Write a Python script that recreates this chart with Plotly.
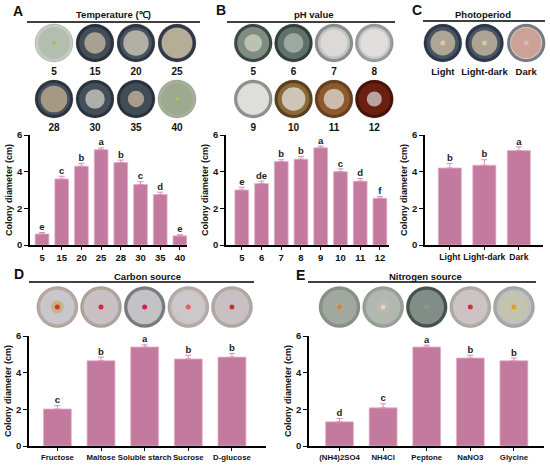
import plotly.graph_objects as go

W, H = 550, 468
# offset of the plot inside the page (body margin is removed below)
OX, OY = 0, 0

# -----------------------------
# Data
# -----------------------------
temp_labels = ["5", "15", "20", "25", "28", "30", "35", "40"]
temp_mean = [0.6, 3.6, 4.3, 5.2, 4.5, 3.3, 2.75, 0.5]
temp_err = [0.08, 0.15, 0.15, 0.1, 0.13, 0.15, 0.13, 0.06]
temp_sig = ["e", "c", "b", "a", "b", "c", "d", "e"]

ph_labels = ["5", "6", "7", "8", "9", "10", "11", "12"]
ph_mean = [3.0, 3.35, 4.55, 4.68, 5.3, 4.0, 3.48, 2.55]
ph_err = [0.15, 0.13, 0.1, 0.15, 0.1, 0.15, 0.15, 0.1]
ph_sig = ["e", "de", "b", "b", "a", "c", "d", "f"]

light_labels = ["Light", "Light-dark", "Dark"]
light_mean = [4.2, 4.35, 5.15]
light_err = [0.25, 0.3, 0.2]
light_sig = ["b", "b", "a"]

carbon_labels = ["Fructose", "Maltose", "Soluble starch", "Sucrose", "D-glucose"]
carbon_mean = [2.02, 4.65, 5.4, 4.75, 4.85]
carbon_err = [0.18, 0.2, 0.12, 0.2, 0.2]
carbon_sig = ["c", "b", "a", "b", "b"]

nitrogen_labels = ["(NH4)2SO4", "NH4Cl", "Peptone", "NaNO3", "Glycine"]
nitrogen_mean = [1.32, 2.08, 5.4, 4.8, 4.65]
nitrogen_err = [0.18, 0.22, 0.1, 0.15, 0.15]
nitrogen_sig = ["d", "c", "a", "b", "b"]

# -----------------------------
# Plate colours (rim, agar, colony, centre spot)
# -----------------------------
temp_rim = ["#c6cbc1", "#29313d", "#2d3643", "#303846", "#2c3440", "#2b333f", "#29313d", "#a6b09b"]
temp_agar = ["#b3beaf", "#434d58", "#48535e", "#4a5460", "#46505c", "#454f5a", "#424c56", "#9daa8f"]
temp_colony = ["#e09a3a", "#d6c2ad", "#e0d8c4", "#e3d3ae", "#cdb894", "#dcd7cc", "#d2c2a2", "#e6c02a"]

ph_rim = ["#3b4741", "#323e3a", "#8a8e8e", "#989c9c", "#8c928e", "#58401e", "#683f1e", "#481307"]
ph_agar = ["#7f8c82", "#60706a", "#c2c4c2", "#c9cbcb", "#bfc3bb", "#8a6a38", "#8c5a2c", "#6a2010"]
ph_colony = ["#d6d8c4", "#b8c0bc", "#e8e2e0", "#ece6e6", "#ebebe6", "#ececec", "#e6e6e6", "#dcdcdc"]

light_rim = ["#2c384a", "#2c384a", "#787d82"]
light_agar = ["#485464", "#485464", "#dcdcdc"]
light_colony = ["#d9c9a8", "#d5c6a6", "#c48878"]
light_centre = ["#d9c9a8", "#d5c6a6", "#dcbcae"]

carbon_rim = ["#b8a8a0", "#b0a49c", "#7a7c80", "#b8aaa4", "#b4a8a2"]
carbon_agar = ["#c8c8cc", "#c4c4c8", "#9a9ca0", "#c6c6ca", "#c4c4c8"]
carbon_colony = ["#c9a85c", "#cdbfc0", "#d4d4d6", "#cfc7c8", "#cbbfc0"]
carbon_centre = ["#d03040", "#e02040", "#d02050", "#e06070", "#c83040"]

nitrogen_rim = ["#889088", "#98a098", "#48524e", "#b4aaa4", "#a8a8ac"]
nitrogen_agar = ["#a0a8a0", "#b0b8b0", "#6c7872", "#c8c6c8", "#bcc0c4"]
nitrogen_colony = ["#a8aea4", "#b8beb6", "#8a968e", "#cec2c2", "#c8c4a4"]
nitrogen_centre = ["#e08030", "#f0d0b0", "#8a968e", "#d03040", "#e0a020"]

BAR = "#c27a9f"
BAR_EDGE = "#e8b2cd"
ERR = "#d98fb3"
FONT = "Arial, Liberation Sans, sans-serif"


def px(x):
    return (x - OX) / W


def py(y):
    return 1 - (y - OY) / H


fig = go.Figure()


# -----------------------------
# Bar panels
# -----------------------------
def add_bars(labels, mean, err, sig, n, bw):
    xa, ya = "x%d" % n, "y%d" % n
    fig.add_trace(go.Bar(
        x=labels, y=mean, xaxis=xa, yaxis=ya, width=bw,
        marker=dict(color=BAR, line=dict(color=BAR_EDGE, width=0.8)),
        error_y=dict(type="data", array=err, arrayminus=[0] * len(err),
                     symmetric=False, color=ERR, thickness=1, width=3),
        hoverinfo="x+y",
    ))
    fig.add_trace(go.Scatter(
        x=labels, y=[m + e for m, e in zip(mean, err)], xaxis=xa, yaxis=ya,
        mode="text", text=sig, textposition="top center", cliponaxis=False,
        textfont=dict(family=FONT, size=9.5, color="#222", weight="bold"),
        hoverinfo="skip",
    ))


add_bars(temp_labels, temp_mean, temp_err, temp_sig, 1, 0.7)
add_bars(ph_labels, ph_mean, ph_err, ph_sig, 2, 0.7)
add_bars(light_labels, light_mean, light_err, light_sig, 3, 0.67)
add_bars(carbon_labels, carbon_mean, carbon_err, carbon_sig, 4, 0.64)
add_bars(nitrogen_labels, nitrogen_mean, nitrogen_err, nitrogen_sig, 5, 0.64)


# -----------------------------
# Petri dishes
# -----------------------------
def add_dishes(xs, ys, values, rim, agar, colony, centre, xa, ya, size, labels=None, lsize=10):
    inner = size * 0.84
    fig.add_trace(go.Scatter(
        x=xs, y=ys, xaxis=xa, yaxis=ya,
        mode="markers+text" if labels else "markers",
        marker=dict(size=size, color=rim, line=dict(color="rgba(0,0,0,0.25)", width=0.6)),
        text=labels, textposition="bottom center", cliponaxis=False,
        textfont=dict(family=FONT, size=lsize, color="#111", weight="bold"),
        hoverinfo="skip",
    ))
    fig.add_trace(go.Scatter(
        x=xs, y=ys, xaxis=xa, yaxis=ya, mode="markers",
        marker=dict(size=inner, color=agar, line=dict(width=0)), hoverinfo="skip",
    ))
    fig.add_trace(go.Scatter(
        x=xs, y=ys, xaxis=xa, yaxis=ya, mode="markers",
        marker=dict(size=[min(inner, inner * v / 5.4) for v in values], color=colony,
                    line=dict(width=0)),
        hoverinfo="skip",
    ))
    if centre:
        fig.add_trace(go.Scatter(
            x=xs, y=ys, xaxis=xa, yaxis=ya, mode="markers",
            marker=dict(size=5, color=centre, line=dict(width=0)), hoverinfo="skip",
        ))


add_dishes([i % 4 for i in range(8)], [i // 4 for i in range(8)], temp_mean,
           temp_rim, temp_agar, temp_colony, None, "x6", "y6", 38, temp_labels)
add_dishes([i % 4 for i in range(8)], [i // 4 for i in range(8)], ph_mean,
           ph_rim, ph_agar, ph_colony, None, "x7", "y7", 38, ph_labels)
add_dishes(list(range(3)), [0] * 3, light_mean,
           light_rim, light_agar, light_colony, light_centre, "x8", "y8", 38, light_labels, 9.5)
add_dishes(carbon_labels, [0] * 5, carbon_mean,
           carbon_rim, carbon_agar, carbon_colony, carbon_centre, "x4", "y9", 41)
add_dishes(nitrogen_labels, [0] * 5, nitrogen_mean,
           nitrogen_rim, nitrogen_agar, nitrogen_colony, nitrogen_centre, "x5", "y10", 41)


# -----------------------------
# Axes
# -----------------------------
def xaxis(dom, rng, anchor, size):
    return dict(domain=[px(dom[0]), px(dom[1])], range=rng, anchor=anchor,
                type="category", showline=True, linecolor="black", linewidth=1.5,
                ticks="outside", ticklen=3, tickcolor="black", tickwidth=1,
                tickangle=0, automargin=False,
                tickfont=dict(family=FONT, size=size, color="#111", weight="bold"),
                showgrid=False, zeroline=False, fixedrange=True)


def yaxis(dom, anchor):
    return dict(domain=[py(dom[0]), py(dom[1])], range=[0, 6], anchor=anchor,
                tickvals=[0, 2, 4, 6], showline=True, linecolor="black", linewidth=1.5,
                ticks="outside", ticklen=4, tickcolor="black", tickwidth=1.2,
                automargin=False,
                tickfont=dict(family=FONT, size=9.5, color="#111", weight="bold"),
                title=dict(text="Colony diameter (cm)", standoff=3,
                           font=dict(family=FONT, size=9, color="#111", weight="bold")),
                showgrid=False, zeroline=False, fixedrange=True)


def hidden(dom, rng, anchor, is_x):
    d = [px(dom[0]), px(dom[1])] if is_x else [py(dom[0]), py(dom[1])]
    return dict(domain=d, range=rng, anchor=anchor, visible=False, automargin=False,
                showgrid=False, zeroline=False, fixedrange=True)


layout = dict(
    width=W, height=H, margin=dict(l=0, r=0, t=0, b=0, autoexpand=False),
    paper_bgcolor="white", plot_bgcolor="rgba(0,0,0,0)",
    showlegend=False, bargap=0.3,
    xaxis=xaxis((30, 187), [-0.61, 7.36], "y", 9.5),
    yaxis=yaxis((245, 135), "x"),
    xaxis2=xaxis((226, 389), [-0.8, 7.46], "y2", 9.5),
    yaxis2=yaxis((245, 135), "x2"),
    xaxis3=xaxis((425, 543), [-0.72, 2.7], "y3", 8.6),
    yaxis3=yaxis((245, 135), "x3"),
    xaxis4=xaxis((29, 266), [-0.65, 4.78], "y4", 7.8),
    yaxis4=yaxis((446, 336), "x4"),
    xaxis5=xaxis((309, 544), [-0.7, 4.69], "y5", 7.8),
    yaxis5=yaxis((446, 336), "x5"),
    xaxis6=hidden((33.5, 197.5), [-0.5, 3.5], "y6", True),
    yaxis6=hidden((127, 15), [1.5, -0.5], "x6", False),
    xaxis7=hidden((233, 394.5), [-0.5, 3.5], "y7", True),
    yaxis7=hidden((127, 15), [1.5, -0.5], "x7", False),
    xaxis8=hidden((422, 547), [-0.5, 2.5], "y8", True),
    yaxis8=hidden((127, 15), [1.5, -0.5], "x8", False),
    yaxis9=hidden((327, 287), [-1, 1], "x4", False),
    yaxis10=hidden((327, 287), [-1, 1], "x5", False),
)
fig.update_layout(**layout)

# panel letters, titles and rules
panels = [
    ("A", 18, 11, "Temperature (℃)", 113, 15, 27, 200, 22),
    ("B", 221, 10, "pH value", 314, 15, 227, 395, 22),
    ("C", 417, 10, "Photoperiod", 483, 14, 423, 545, 21),
    ("D", 19, 274, "Carbon source", 147, 276, 29, 254, 282),
    ("E", 300, 275, "Nitrogen source", 425, 276, 308, 536, 282),
]
for letter, lx, ly, title, tx, ty, x0, x1, yl in panels:
    fig.add_annotation(x=px(lx), y=py(ly), xref="paper", yref="paper", text=letter,
                       showarrow=False, xanchor="center", yanchor="middle",
                       font=dict(family=FONT, size=14, color="#111", weight="bold"))
    fig.add_annotation(x=px(tx), y=py(ty), xref="paper", yref="paper", text=title,
                       showarrow=False, xanchor="center", yanchor="middle",
                       font=dict(family=FONT, size=9.5, color="#111", weight="bold"))
    fig.add_shape(type="line", xref="paper", yref="paper", x0=px(x0), x1=px(x1),
                  y0=py(yl), y1=py(yl), line=dict(color="black", width=1.5))

fig.write_html("out.html", config={"displayModeBar": False},
               post_script="document.body.style.margin = '0';")
